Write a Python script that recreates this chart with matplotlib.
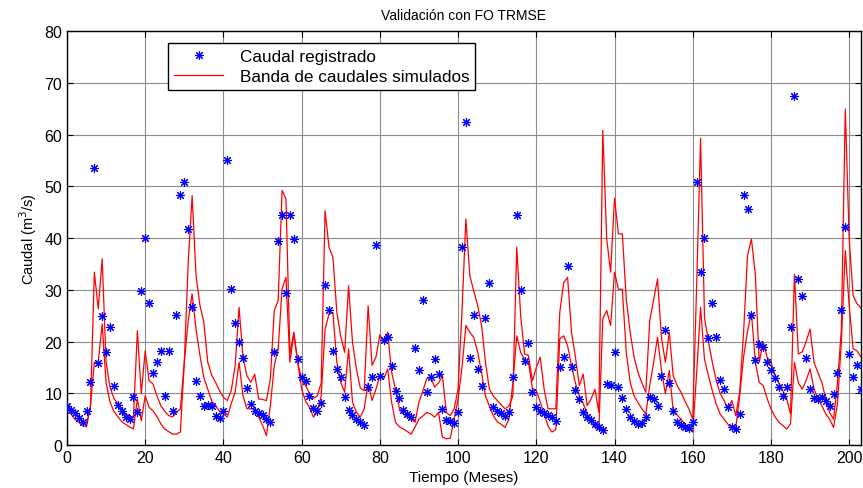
import matplotlib
matplotlib.use('Agg')
import matplotlib.pyplot as plt
import numpy as np

plt.rcParams['font.family'] = ['Liberation Sans', 'DejaVu Sans']

# caudal registrado (m3/s), un valor por mes
registrado = [
    7.6, 6.8, 6.2, 5.2, 4.5, 6.5, 12.2, 53.5, 15.8, 25.0,
    18.0, 22.9, 11.5, 7.8, 6.5, 5.5, 5.0, 9.3, 6.3, 29.8,
    40.1, 27.4, 13.9, 16.1, 18.1, 9.5, 18.2, 6.6, 25.1, 48.4,
    50.8, 41.7, 26.7, 12.3, 9.5, 7.6, 7.8, 7.6, 5.7, 5.3,
    6.6, 55.1, 30.1, 23.6, 20.0, 16.9, 11.0, 7.9, 6.5, 6.2,
    5.8, 5.0, 4.5, 18.0, 39.5, 44.4, 29.3, 44.4, 39.9, 16.6,
    13.2, 12.3, 9.5, 7.1, 6.6, 8.2, 31.0, 26.0, 18.2, 14.7,
    13.1, 9.2, 6.8, 5.8, 5.0, 4.4, 3.8, 11.3, 13.2, 38.6,
    13.4, 20.2, 20.8, 15.3, 10.5, 9.0, 6.8, 6.0, 5.5, 18.7,
    14.4, 28.1, 10.3, 13.1, 16.6, 13.7, 7.0, 4.9, 4.6, 4.2,
    6.4, 38.2, 62.4, 16.9, 25.2, 14.7, 11.5, 24.5, 31.3, 7.3,
    6.6, 6.2, 5.6, 6.4, 13.2, 44.4, 30.0, 16.2, 19.7, 10.2,
    7.4, 6.6, 6.2, 5.8, 5.4, 4.7, 15.0, 17.1, 34.6, 15.0,
    10.7, 8.8, 6.3, 5.5, 4.8, 4.0, 3.4, 2.9, 11.8, 11.6,
    17.9, 11.3, 9.0, 7.0, 5.5, 4.6, 4.0, 4.3, 5.4, 9.2,
    8.8, 7.6, 13.4, 22.2, 11.9, 6.6, 4.4, 3.8, 3.5, 3.2,
    4.4, 50.8, 33.4, 40.0, 20.6, 27.4, 20.8, 12.6, 10.8, 7.4,
    3.4, 3.1, 6.0, 48.3, 45.6, 25.2, 16.5, 19.5, 18.9, 16.1,
    14.4, 12.9, 11.3, 9.5, 11.3, 22.9, 67.5, 32.1, 28.7, 16.8,
    10.8, 9.0, 8.8, 9.2, 8.5, 7.5, 9.9, 14.0, 26.0, 42.2,
    17.6, 13.1, 15.5, 10.8,
]

# limite superior de la banda simulada
banda_sup = [
    7.9, 7.0, 6.3, 5.5, 4.4, 4.2, 7.0, 33.4, 26.3, 36.0,
    16.0, 11.2, 9.0, 8.0, 7.0, 6.0, 5.6, 5.4, 22.1, 9.9,
    18.2, 12.4, 11.8, 9.5, 7.6, 6.5, 5.7, 5.4, 6.3, 7.0,
    16.0, 35.3, 48.2, 32.7, 27.0, 23.7, 16.0, 13.5, 12.1, 10.5,
    9.2, 8.6, 10.5, 15.3, 26.6, 17.0, 13.4, 12.1, 13.7, 8.9,
    8.8, 8.6, 12.8, 26.0, 27.9, 49.2, 47.5, 17.6, 21.8, 16.0,
    12.7, 11.5, 10.0, 9.0, 9.5, 12.0, 45.3, 38.2, 36.3, 25.7,
    21.0, 17.9, 30.8, 19.9, 14.7, 11.0, 10.5, 26.9, 15.4, 17.0,
    21.3, 19.9, 21.8, 14.1, 10.8, 7.0, 6.0, 5.4, 5.0, 4.4,
    8.3, 10.5, 12.8, 13.1, 11.2, 12.0, 13.4, 6.3, 5.7, 7.0,
    10.8, 26.0, 43.7, 32.7, 29.8, 27.0, 23.1, 16.0, 10.8, 9.5,
    8.6, 7.8, 7.0, 7.5, 9.5, 38.2, 25.0, 17.6, 17.3, 12.4,
    15.0, 17.0, 10.8, 7.0, 7.0, 7.0, 25.6, 31.4, 32.4, 21.8,
    17.0, 11.5, 13.7, 7.6, 8.9, 10.8, 6.3, 60.8, 39.8, 33.4,
    47.7, 40.8, 40.8, 28.2, 21.8, 17.0, 14.0, 12.0, 10.2, 24.0,
    28.0, 32.1, 20.8, 16.0, 21.8, 13.4, 11.5, 10.2, 8.5, 7.0,
    5.0, 31.0, 59.3, 24.7, 20.0, 16.0, 12.5, 10.0, 8.6, 7.0,
    8.6, 5.7, 10.2, 21.8, 36.6, 39.8, 33.0, 16.0, 19.9, 17.0,
    16.0, 13.5, 12.0, 10.5, 9.0, 6.0, 33.0, 17.6, 18.0, 20.0,
    22.4, 16.0, 14.0, 12.1, 9.0, 6.3, 5.0, 12.0, 22.4, 64.9,
    39.8, 28.9, 27.3, 26.5,
]

# limite inferior de la banda simulada
banda_inf = [
    7.6, 6.0, 5.0, 4.4, 3.8, 3.5, 7.6, 16.0, 16.0, 23.4,
    12.0, 8.3, 6.5, 5.5, 4.5, 4.0, 3.5, 3.1, 8.9, 4.7,
    9.5, 7.3, 6.6, 5.5, 4.1, 3.1, 2.6, 2.1, 2.1, 2.5,
    16.0, 24.0, 29.2, 22.4, 17.3, 13.0, 10.8, 8.5, 7.6, 6.5,
    6.0, 5.4, 8.0, 10.2, 16.0, 9.5, 7.0, 7.0, 7.0, 5.4,
    3.8, 1.8, 7.6, 15.3, 18.6, 30.2, 32.4, 16.0, 21.5, 16.0,
    10.8, 8.5, 7.3, 5.4, 6.3, 9.5, 22.4, 25.3, 25.6, 16.0,
    12.1, 10.2, 18.6, 8.3, 6.3, 5.4, 7.0, 12.0, 8.6, 10.8,
    13.4, 12.8, 14.7, 8.3, 4.4, 3.5, 3.1, 2.6, 2.1, 3.5,
    5.0, 5.6, 6.3, 6.0, 5.4, 6.3, 1.5, 1.2, 1.3, 5.0,
    8.9, 15.0, 23.1, 21.8, 20.8, 18.0, 14.0, 9.5, 7.5, 5.7,
    4.5, 4.0, 3.4, 5.0, 12.0, 21.1, 17.9, 16.5, 16.0, 11.0,
    10.5, 8.3, 6.0, 3.7, 2.5, 3.0, 20.5, 21.1, 19.2, 15.3,
    12.0, 9.5, 8.0, 6.0, 4.4, 3.4, 3.1, 24.4, 26.0, 23.1,
    33.4, 30.1, 30.1, 17.9, 12.1, 9.5, 8.2, 7.0, 6.0, 11.5,
    16.0, 20.8, 14.5, 9.9, 14.4, 6.6, 5.8, 5.0, 4.0, 3.4,
    2.5, 14.0, 26.6, 16.6, 13.4, 10.5, 7.9, 6.0, 5.0, 4.0,
    3.1, 3.4, 9.5, 17.0, 22.0, 25.6, 16.0, 12.1, 11.5, 9.0,
    7.0, 5.5, 4.4, 3.8, 3.1, 4.1, 16.0, 12.0, 10.8, 12.5,
    14.7, 10.8, 9.0, 7.6, 6.0, 5.0, 3.4, 8.0, 20.0, 37.6,
    26.9, 18.6, 18.2, 17.0,
]

meses = np.arange(len(registrado))

fig = plt.figure(figsize=(8.63, 4.89), dpi=100)
ax = fig.add_axes([0.0776, 0.0879, 0.920, 0.8466])

ax.plot(meses, registrado, linestyle='none', marker=(8, 2, 0), markersize=6.5,
        color='blue', markeredgewidth=0.8, label='Caudal registrado', zorder=3)
ax.plot(meses, banda_sup, color='red', linewidth=0.9,
        label='Banda de caudales simulados', zorder=2)
ax.plot(meses, banda_inf, color='red', linewidth=0.9, zorder=2)

ax.set_xlim(0, 203)
ax.set_ylim(0, 80)
ax.set_xticks(np.arange(0, 201, 20))
ax.set_yticks(np.arange(0, 81, 10))
ax.grid(True, color='#8c8c8c', linewidth=0.8, linestyle='-')
ax.set_axisbelow(True)
ax.tick_params(direction='in', top=True, right=True, labelsize=11.5, length=4)
for s in ax.spines.values():
    s.set_linewidth(1.0)

ax.set_title('Validación con FO TRMSE', fontsize=10, pad=9)
ax.set_xlabel('Tiempo (Meses)', fontsize=11, labelpad=4)
ax.set_ylabel('Caudal (m$^3$/s)', fontsize=10.5, labelpad=4)

leg = ax.legend(loc='upper left', bbox_to_anchor=(0.127, 0.971), borderaxespad=0,
                fontsize=12.3, frameon=True, fancybox=False, edgecolor='black',
                framealpha=1, borderpad=0.35, handlelength=2.9, handletextpad=0.95,
                labelspacing=0.28)
leg.get_frame().set_linewidth(1.0)

fig.savefig('out.png', dpi=100)
